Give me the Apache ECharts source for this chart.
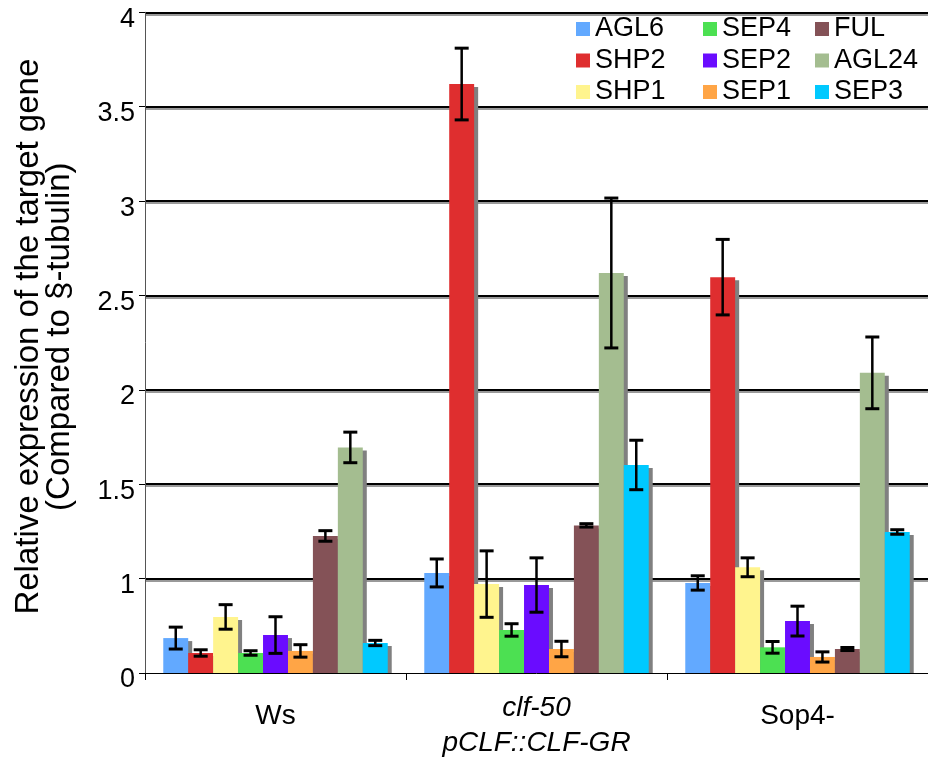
<!DOCTYPE html>
<html>
<head>
<meta charset="utf-8">
<title>Relative expression</title>
<script src="https://cdn.jsdelivr.net/npm/echarts@6/dist/echarts.min.js"></script>
<style>
  html, body { margin: 0; padding: 0; background: #fff; }
  #chart { width: 928px; height: 760px; }
</style>
</head>
<body>
<div id="chart"></div>
<script>
// categories (x axis)
var categories = ['Ws', 'clf-50\npCLF::CLF-GR', 'Sop4-'];
var genes = ['AGL6', 'SHP2', 'SHP1', 'SEP4', 'SEP2', 'SEP1', 'FUL', 'AGL24', 'SEP3'];
var colors = ['#62a9ff', '#df2e2f', '#fff48e', '#4ce052', '#6a0cff', '#ffa546', '#845257', '#a4bd90', '#00c9ff'];

// bar heights per gene (Ws, clf-50, Sop4-)
var AGL6 = [0.685, 1.030, 0.977];
var SHP2 = [0.606, 3.620, 2.597];
var SHP1 = [0.797, 0.971, 1.060];
var SEP4 = [0.606, 0.728, 0.636];
var SEP2 = [0.701, 0.966, 0.775];
var SEP1 = [0.617, 0.627, 0.585];
var FUL = [1.226, 1.282, 0.627];
var AGL24 = [1.695, 2.619, 2.090];
var SEP3 = [0.659, 1.602, 1.247];

// error bar half-lengths
var AGL6_err = [0.058, 0.074, 0.038];
var SHP2_err = [0.017, 0.190, 0.200];
var SHP1_err = [0.065, 0.176, 0.050];
var SEP4_err = [0.012, 0.033, 0.031];
var SEP2_err = [0.097, 0.144, 0.079];
var SEP1_err = [0.033, 0.041, 0.027];
var FUL_err = [0.028, 0.009, 0.008];
var AGL24_err = [0.081, 0.397, 0.190];
var SEP3_err = [0.014, 0.131, 0.012];

// y ticks: the bottom line is labelled 0
var yMin = 0.5, yMax = 4, yStep = 0.5;
var yTickLabels = {0.5: '0', 1: '1', 1.5: '1.5', 2: '2', 2.5: '2.5', 3: '3', 3.5: '3.5', 4: '4'};

var values = [AGL6, SHP2, SHP1, SEP4, SEP2, SEP1, FUL, AGL24, SEP3];
var errors = [AGL6_err, SHP2_err, SHP1_err, SEP4_err, SEP2_err, SEP1_err, FUL_err, AGL24_err, SEP3_err];

var font = '"Liberation Sans", Arial, Helvetica, sans-serif';
var gapRatio = 0.14;

function renderGene(si) {
    return function (params, api) {
        var cat = api.value(0), val = api.value(1), err = api.value(2);
        var base = api.coord([cat, yMin]);
        var top = api.coord([cat, val]);
        var band = api.size([1, 0])[0];
        var groupW = band * (1 - gapRatio);
        var w = groupW / genes.length;
        var x = base[0] - groupW / 2 + si * w;
        var cx = x + w / 2;
        var hi = api.coord([cat, val + err])[1];
        var lo = api.coord([cat, val - err])[1];
        return {
            type: 'group',
            children: [
                // grey offset shadow, covered by the next bar
                {type: 'rect', shape: {x: x + 4, y: top[1] + 3, width: w, height: base[1] - top[1] - 3},
                    style: {fill: '#808080'}},
                {type: 'rect', shape: {x: x, y: top[1], width: w, height: base[1] - top[1]},
                    style: {fill: api.visual('color')}},
                {type: 'line', shape: {x1: cx, y1: hi, x2: cx, y2: lo},
                    style: {stroke: '#000', lineWidth: 2.5}},
                {type: 'line', shape: {x1: cx - 7, y1: hi, x2: cx + 7, y2: hi},
                    style: {stroke: '#000', lineWidth: 3}},
                {type: 'line', shape: {x1: cx - 7, y1: lo, x2: cx + 7, y2: lo},
                    style: {stroke: '#000', lineWidth: 3}}
            ]
        };
    };
}

var series = genes.map(function (name, i) {
    return {
        name: name,
        type: 'custom',
        renderItem: renderGene(i),
        itemStyle: {color: colors[i]},
        encode: {x: 0, y: 1},
        data: values[i].map(function (v, j) { return [j, v, errors[i][j]]; })
    };
});

function legendCol(left, names) {
    return {
        orient: 'vertical',
        left: left,
        top: 14,
        padding: 0,
        itemWidth: 14,
        itemHeight: 14,
        itemGap: 1.5,
        icon: 'rect',
        selectedMode: false,
        data: names,
        textStyle: {fontSize: 27, lineHeight: 30, color: '#000', fontFamily: font}
    };
}

var myChart = echarts.init(document.getElementById('chart'));
var option = {
    animation: false,
    backgroundColor: '#fff',
    legend: [
        legendCol(576, ['AGL6', 'SHP2', 'SHP1']),
        legendCol(703, ['SEP4', 'SEP2', 'SEP1']),
        legendCol(815, ['FUL', 'AGL24', 'SEP3'])
    ],
    grid: {left: 145, right: -9.6, top: 12.3, bottom: 87},
    xAxis: {
        type: 'category',
        data: categories,
        axisLine: {lineStyle: {color: '#000', width: 1}},
        axisTick: {show: true, length: 7, lineStyle: {color: '#000'}},
        axisLabel: {
            margin: 18,
            color: '#000',
            fontFamily: font,
            formatter: function (v) {
                if (v.indexOf('\n') >= 0) {
                    return v.split('\n').map(function (s) { return '{i|' + s + '}'; }).join('\n');
                }
                return '{n|' + v + '}';
            },
            rich: {
                n: {fontSize: 28, lineHeight: 51, fontFamily: font, color: '#000'},
                i: {fontSize: 28, lineHeight: 35, fontStyle: 'italic', fontFamily: font, color: '#000'}
            }
        }
    },
    yAxis: {
        type: 'value',
        min: yMin,
        max: yMax,
        interval: yStep,
        name: 'Relative expression of the target gene\n(Compared to §-tubulin)',
        nameLocation: 'middle',
        nameGap: 70,
        nameTextStyle: {fontSize: 33, lineHeight: 31, color: '#000', fontFamily: font, padding: [0, 0, 0, 12]},
        axisLine: {show: true, lineStyle: {color: '#555', width: 1}},
        axisTick: {show: true, length: 6, lineStyle: {color: '#000'}},
        axisLabel: {
            fontSize: 27,
            lineHeight: 14,
            verticalAlign: 'top',
            color: '#000',
            fontFamily: font,
            margin: 10,
            formatter: function (v) { return yTickLabels[v] !== undefined ? yTickLabels[v] : ''; }
        },
        splitLine: {
            show: true,
            showMinLine: false,
            lineStyle: {color: '#000', width: 2, shadowColor: '#999', shadowOffsetY: 2, shadowBlur: 0}
        }
    },
    series: series
};
myChart.setOption(option);
</script>
</body>
</html>
